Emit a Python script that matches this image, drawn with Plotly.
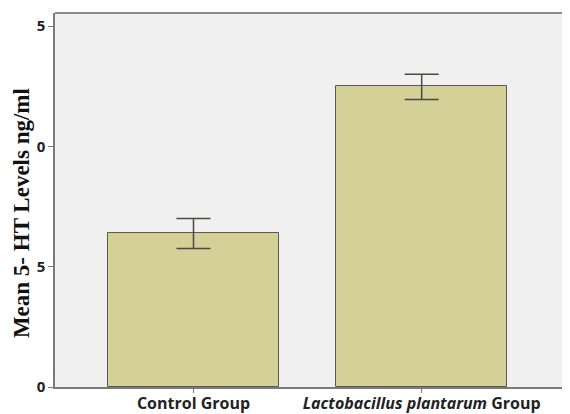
import plotly.graph_objects as go

categories = ["Control Group", "<i>Lactobacillus plantarum</i> Group"]
means = [6.4, 12.5]
err_plus = [0.6, 0.5]
err_minus = [0.65, 0.55]
ytick_vals = [0, 5, 10, 15]
ytick_text = ["0", "5", "0", "5"]

xpos = list(range(len(categories)))

fig = go.Figure()
fig.add_trace(go.Bar(
    x=xpos, y=means, width=0.752,
    marker=dict(color="#D5CF98", line=dict(color="#5a5a50", width=1)),
    error_y=dict(type="data", array=err_plus, arrayminus=err_minus,
                 color="#4a4a44", thickness=1.5, width=17),
    showlegend=False,
))

fig.update_layout(
    width=562, height=406,
    margin=dict(l=47, r=0, t=5, b=27),
    paper_bgcolor="white",
    plot_bgcolor="#F0F0F0",
    bargap=0,
    xaxis=dict(
        range=[-0.607, 1.65], tickvals=xpos, ticktext=categories,
        showgrid=False, zeroline=False, automargin=False,
        showline=True, linecolor="#7a7a7a", linewidth=1.5,
        ticks="outside", ticklen=4, tickcolor="#7a7a7a",
        ticklabelstandoff=-3,
        tickfont=dict(family="Open Sans", size=16, color="#222", weight="bold"),
    ),
    yaxis=dict(
        range=[0, 15.54], tickvals=ytick_vals, ticktext=ytick_text,
        showgrid=False, zeroline=False, automargin=False,
        showline=True, linecolor="#7a7a7a", linewidth=1.5,
        ticks="outside", ticklen=5, tickcolor="#7a7a7a",
        tickfont=dict(family="Open Sans", size=15, color="#222", weight="bold"),
    ),
    shapes=[dict(type="line", xref="paper", yref="paper", x0=0, x1=1, y0=1, y1=1,
                 line=dict(color="#8a8a8a", width=2))],
    annotations=[dict(
        text="Mean 5- HT Levels ng/ml", textangle=-90,
        xref="paper", yref="paper", x=-0.066, y=0.465,
        xanchor="center", yanchor="middle", showarrow=False,
        font=dict(family="Liberation Serif", size=23, color="#111", weight="bold"),
    )],
)

fig.write_html("out.html")
